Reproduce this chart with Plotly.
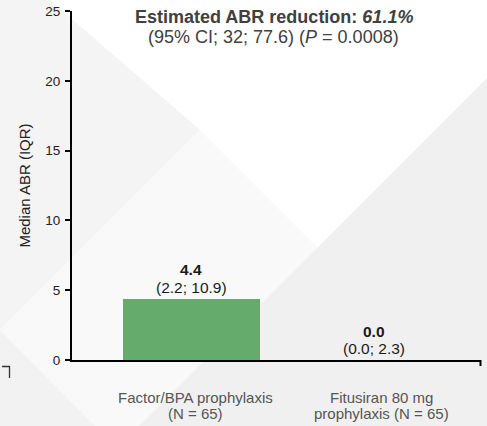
import plotly.graph_objects as go

# ---- data ----
category_lines = [["Factor/BPA prophylaxis", "(N = 65)"],
                  ["Fitusiran 80 mg", "prophylaxis (N = 65)"]]
median_abr = [4.4, 0.0]
iqr_low = [2.2, 0.0]
iqr_high = [10.9, 2.3]
y_ticks = [0, 5, 10, 15, 20, 25]
reduction_pct = 61.1
ci_low, ci_high = 32, 77.6
p_value = "0.0008"

W, H = 487, 426
ML, MR, MT, MB = 72, 6, 11, 66
PW, PH = W - ML - MR, H - MT - MB
FONT = "Liberation Sans, Arial, sans-serif"


def px2paper(px, py):
    return (px - ML) / PW, (H - MB - py) / PH


def poly(points):
    pts = [px2paper(x, y) for x, y in points]
    return "M " + " L ".join(f"{x:.4f},{y:.4f}" for x, y in pts) + " Z"


fig = go.Figure()
fig.add_trace(go.Bar(
    x=[0, 1], y=median_abr, width=0.737,
    marker=dict(color="#64ab6c", line=dict(width=0)),
    hoverinfo="skip", showlegend=False,
))

annotations = []
for i, (m, lo, hi) in enumerate(zip(median_abr, iqr_low, iqr_high)):
    dx = 0 if i == 0 else -4
    annotations.append(dict(
        x=i, y=m, xref="x", yref="y", yanchor="middle", yshift=29, xshift=dx,
        text=f"<b>{m:.1f}</b>", showarrow=False,
        font=dict(family=FONT, size=15.5, color="#1a1a1a"),
    ))
    annotations.append(dict(
        x=i, y=m, xref="x", yref="y", yanchor="middle", yshift=11.5, xshift=dx,
        text=f"({lo:.1f}; {hi:.1f})", showarrow=False,
        font=dict(family=FONT, size=15.5, color="#1a1a1a"),
    ))

for i, lines in enumerate(category_lines):
    for j, line in enumerate(lines):
        annotations.append(dict(
            x=i, xref="x", xshift=4,
            y=px2paper(0, 397 + 16.5 * j)[1], yref="paper", yanchor="middle",
            text=line, showarrow=False,
            font=dict(family=FONT, size=15, color="#555555"),
        ))

tx = px2paper(273.5, 0)[0]
annotations.append(dict(
    x=tx, y=px2paper(0, 16.7)[1], xref="paper", yref="paper", yanchor="middle",
    text=f"<b>Estimated ABR reduction: <i>{reduction_pct:.1f}%</i></b>",
    showarrow=False, font=dict(family=FONT, size=18, color="#404040"),
))
annotations.append(dict(
    x=tx, y=px2paper(0, 36.7)[1], xref="paper", yref="paper", yanchor="middle",
    text=f"(95% CI; {ci_low}; {ci_high}) (<i>P</i> = {p_value})",
    showarrow=False, font=dict(family=FONT, size=18, color="#404040"),
))


def bg(points, color):
    return dict(type="path", path=poly(points), xref="paper", yref="paper",
                fillcolor=color, line=dict(width=0), layer="below")


shapes = [
    # background decoration
    bg([(0, 0), (50, 0), (200, 130), (0, 330)], "#f4f4f4"),
    bg([(0, 330), (200, 130), (330, 260), (165, 426), (95, 426)], "#f9f9f9"),
    bg([(0, 330), (95, 426), (0, 426)], "#f2f2f2"),
    bg([(487, 78), (139, 426), (487, 426)], "#f0f0f0"),
    # end tick on x axis
    dict(type="line", xref="paper", yref="paper",
         x0=px2paper(480.5, 0)[0], x1=px2paper(480.5, 0)[0],
         y0=px2paper(0, 360)[1], y1=px2paper(0, 366)[1],
         line=dict(color="black", width=2)),
    # small corner mark at left
    dict(type="path", path="M {:.4f},{:.4f} L {:.4f},{:.4f} L {:.4f},{:.4f}".format(
        *px2paper(2, 366.5), *px2paper(9.5, 366.5), *px2paper(9.5, 378)),
         xref="paper", yref="paper", line=dict(color="#333333", width=1.3)),
]

fig.update_layout(
    width=W, height=H,
    margin=dict(l=ML, r=MR, t=MT, b=MB, autoexpand=False),
    paper_bgcolor="white", plot_bgcolor="rgba(0,0,0,0)",
    font=dict(family=FONT),
    annotations=annotations, shapes=shapes,
    xaxis=dict(
        range=[-0.642, 1.556], tickvals=[0, 1], showticklabels=False,
        showline=True, linecolor="black", linewidth=2, ticks="",
        showgrid=False, zeroline=False, automargin=False,
    ),
    yaxis=dict(
        range=[0, 25], tickvals=y_ticks,
        showline=True, linecolor="black", linewidth=2,
        ticks="outside", ticklen=5, tickwidth=2, tickcolor="black",
        showgrid=False, zeroline=False, automargin=False,
        ticklabelstandoff=2,
        tickfont=dict(family=FONT, size=13.5, color="#222222"),
        title=dict(text="Median ABR (IQR)", standoff=11,
                   font=dict(family=FONT, size=15, color="#222222")),
    ),
    bargap=0,
)

fig.write_html("out.html", post_script="document.body.style.margin='0';",
               config={"displayModeBar": False})
